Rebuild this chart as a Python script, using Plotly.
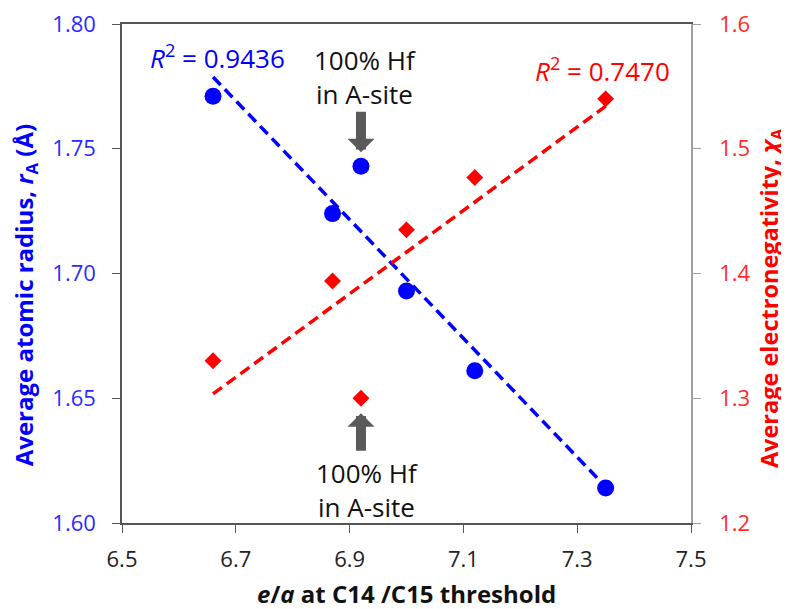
import numpy as np
import plotly.graph_objects as go

# ---- data ----
ea = [6.66, 6.87, 6.92, 7.00, 7.12, 7.35]          # e/a at C14/C15 threshold
radius = [1.771, 1.724, 1.743, 1.693, 1.661, 1.614]  # average atomic radius r_A (Å)
chi = [1.330, 1.394, 1.300, 1.435, 1.477, 1.540]     # average electronegativity χ_A
hf_index = 2                                         # 100% Hf in A-site point
x_ticks = [6.5, 6.7, 6.9, 7.1, 7.3, 7.5]
r_ticks = [1.60, 1.65, 1.70, 1.75, 1.80]
chi_ticks = [1.2, 1.3, 1.4, 1.5, 1.6]
r2_radius = "0.9436"
r2_chi = "0.7470"

FONT = "Open Sans"
BLUE = "#0000ff"
RED = "#ff0000"

xa = np.array(ea)
pr = np.polyfit(xa, np.array(radius), 1)
pc = np.polyfit(xa, np.array(chi), 1)
xfit = np.array([xa.min(), xa.max()])

fig = go.Figure()
fig.add_trace(go.Scatter(x=xfit, y=np.polyval(pr, xfit), mode="lines",
                         line=dict(color=BLUE, width=3.5, dash="11px,6px"),
                         showlegend=False, hoverinfo="skip"))
fig.add_trace(go.Scatter(x=xfit, y=np.polyval(pc, xfit), mode="lines", yaxis="y2",
                         line=dict(color=RED, width=3.5, dash="11px,6px"),
                         showlegend=False, hoverinfo="skip"))
fig.add_trace(go.Scatter(x=ea, y=radius, mode="markers",
                         marker=dict(symbol="circle", size=17, color=BLUE),
                         showlegend=False))
fig.add_trace(go.Scatter(x=ea, y=chi, mode="markers", yaxis="y2",
                         marker=dict(symbol="diamond", size=13, color=RED),
                         showlegend=False))

annos = []
# R² labels
annos.append(dict(x=6.668, y=1.7868, xref="x", yref="y", showarrow=False,
                  xanchor="center", yanchor="middle",
                  text="<i>R</i><sup>2</sup> = " + r2_radius,
                  font=dict(family=FONT, size=26, color=BLUE)))
annos.append(dict(x=7.345, y=1.5632, xref="x", yref="y2", showarrow=False,
                  xanchor="center", yanchor="middle",
                  text="<i>R</i><sup>2</sup> = " + r2_chi,
                  font=dict(family=FONT, size=26, color=RED)))
# Hf annotations (top: radius, bottom: electronegativity)
hx = ea[hf_index]
annos.append(dict(x=hx, y=radius[hf_index], xref="x", yref="y", showarrow=False,
                  text="100% Hf<br>in A-site", yshift=89, xshift=4,
                  font=dict(family=FONT, size=26, color="#111111")))
annos.append(dict(x=hx, y=radius[hf_index], xref="x", yref="y", text="",
                  showarrow=True, ax=0, ay=-56, standoff=14,
                  arrowhead=1, arrowwidth=10, arrowsize=0.45, arrowcolor="#5a5a5a"))
annos.append(dict(x=hx, y=chi[hf_index], xref="x", yref="y2", showarrow=False,
                  text="100% Hf<br>in A-site", yshift=-92, xshift=6,
                  font=dict(family=FONT, size=26, color="#111111")))
annos.append(dict(x=hx, y=chi[hf_index], xref="x", yref="y2", text="",
                  showarrow=True, ax=0, ay=54, standoff=15,
                  arrowhead=1, arrowwidth=10, arrowsize=0.45, arrowcolor="#5a5a5a"))
# axis titles
annos.append(dict(x=-0.169, y=0.456, xref="paper", yref="paper", showarrow=False,
                  xanchor="center", yanchor="middle", textangle=-90,
                  text="<b>Average atomic radius, <i>r</i><sub>A</sub> (Å)</b>",
                  font=dict(family=FONT, size=24, color=BLUE)))
annos.append(dict(x=1.140, y=0.450, xref="paper", yref="paper", showarrow=False,
                  xanchor="center", yanchor="middle", textangle=-90,
                  text="<b>Average electronegativity, <i>χ</i><sub>A</sub></b>",
                  font=dict(family=FONT, size=23.5, color=RED)))
annos.append(dict(x=0.5, y=-0.141, xref="paper", yref="paper", showarrow=False,
                  xanchor="center", yanchor="middle",
                  text="<b><i>e</i>/<i>a</i> at C14 /C15 threshold</b>",
                  font=dict(family=FONT, size=24, color="#111111")))

# the page body has an 8px default margin; size and margins compensate for it
fig.update_layout(
    width=781, height=601,
    margin=dict(l=114, r=98, t=16, b=86),
    paper_bgcolor="white", plot_bgcolor="white",
    showlegend=False,
    annotations=annos,
    xaxis=dict(range=[6.5, 7.5], tickvals=x_ticks, ticktext=[f"{v:.1f}" for v in x_ticks],
               automargin=False, ticklabeloverflow="allow",
               showgrid=False, zeroline=False, showline=True, linecolor="#555555",
               linewidth=1.5, mirror=True, ticks="outside", ticklen=8, tickcolor="#555555",
               ticklabelstandoff=8,
               tickfont=dict(family=FONT, size=22, color="#222222")),
    yaxis=dict(range=[1.60, 1.80], tickvals=r_ticks, ticktext=[f"{v:.2f}" for v in r_ticks],
               automargin=False, ticklabeloverflow="allow",
               showgrid=False, zeroline=False, showline=True, linecolor="#555555",
               linewidth=1.5, ticks="outside", ticklen=8, tickcolor="#555555",
               ticklabelstandoff=12,
               tickfont=dict(family=FONT, size=22, color="#2a2aff")),
    yaxis2=dict(range=[1.2, 1.6], tickvals=chi_ticks, ticktext=[f"{v:.1f}" for v in chi_ticks],
                overlaying="y", side="right", automargin=False, ticklabeloverflow="allow",
                showgrid=False, zeroline=False, showline=True, linecolor="#a0a0a0",
                linewidth=1.5, ticks="outside", ticklen=8, tickcolor="#a0a0a0",
                ticklabelstandoff=14,
                tickfont=dict(family=FONT, size=22, color="#ff2a2a")),
)

fig.write_html("out.html")
